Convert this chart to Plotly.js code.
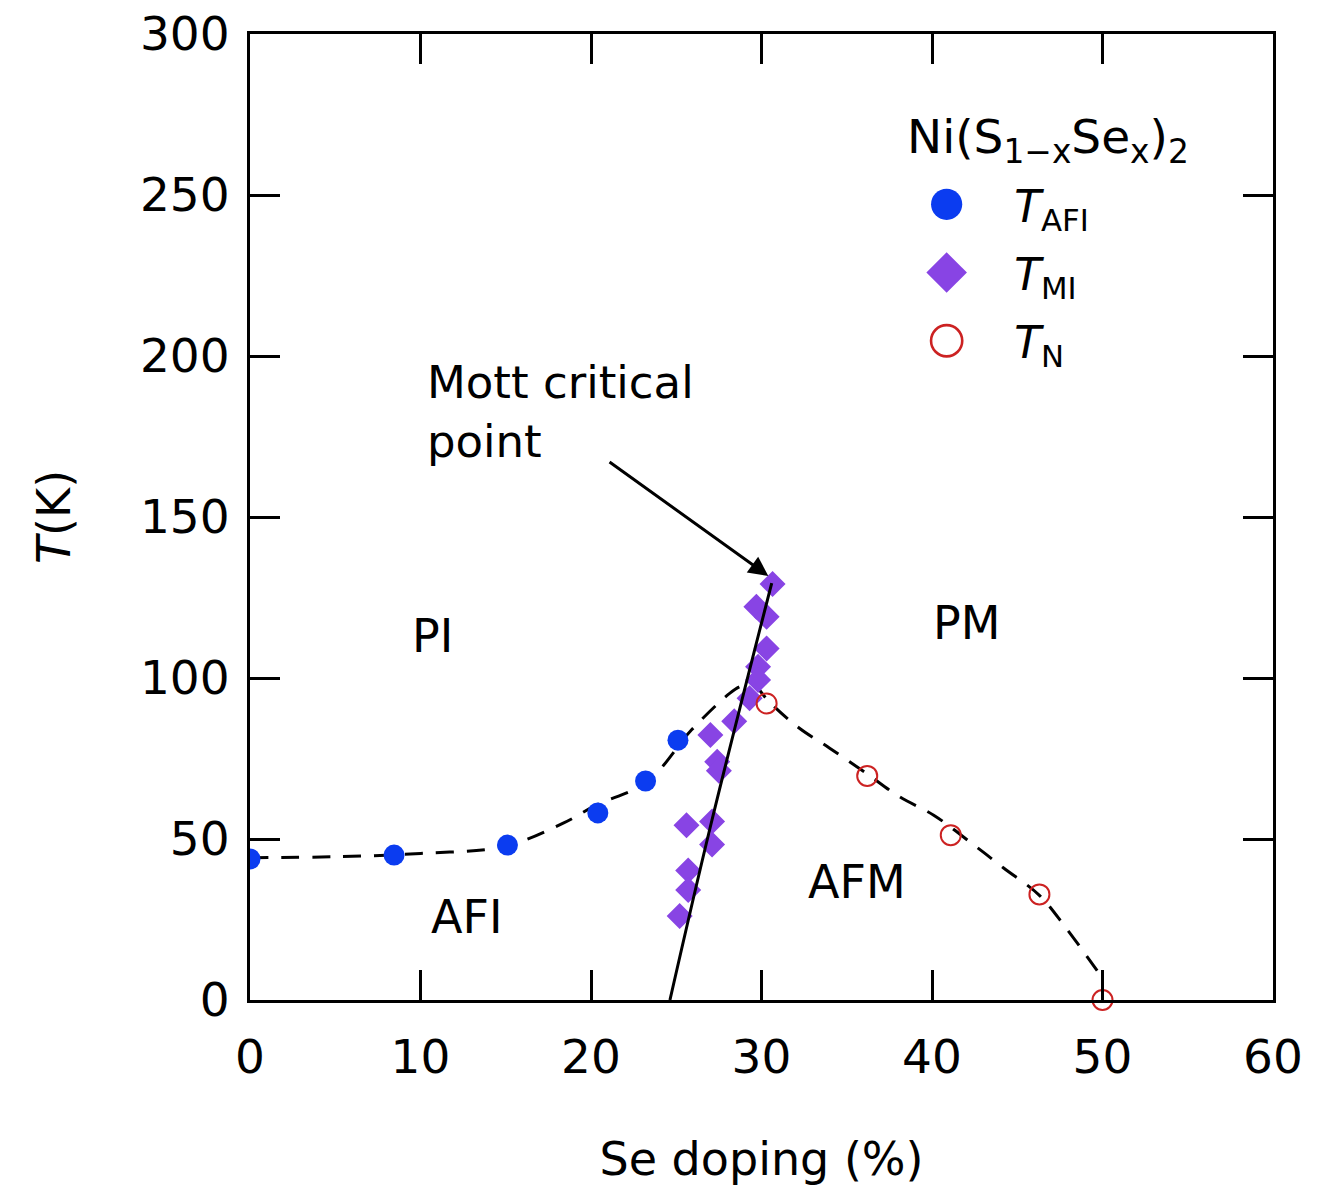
<!DOCTYPE html>
<html>
<head>
<meta charset="utf-8">
<script src="https://cdn.plot.ly/plotly-3.0.1.min.js"></script>
<style>html,body{margin:0;padding:0;background:#fff}</style>
</head>
<body>
<div id="chart" style="width:1328px;height:1188px"></div>
<script>
// T_AFI (blue filled circles)
const afiX = [0, 8.45, 15.1, 20.4, 23.2, 25.1];
const afiY = [43.8, 45.0, 48.1, 58.1, 68.0, 80.7];
// T_MI (purple diamonds)
const miX = [30.65, 29.7, 30.3, 30.3, 29.8, 29.8, 29.3, 28.4, 27.0, 27.4, 27.5, 25.6, 27.1, 27.1, 25.7, 25.7, 25.2];
const miY = [129.2, 122.1, 119.0, 109.2, 103.5, 99.4, 93.7, 86.6, 82.3, 74.0, 71.2, 54.3, 55.4, 48.3, 40.2, 34.2, 26.1];
// T_N (red open circles)
const nX = [30.3, 36.2, 41.1, 46.3, 50.0];
const nY = [92.1, 69.6, 51.2, 32.8, 0];
// guide lines
const afiLineX = [0, 5, 10, 15, 18.4, 20.3, 23.3, 25.9, 28.15, 28.8, 29.6];
const afiLineY = [44.2, 44.5, 45.5, 47.8, 55, 60.5, 67.8, 83.9, 95.3, 97.5, 98.5];
const nLineX = [29.6, 30.3, 32.1, 34.0, 36.2, 38.1, 40.1, 42.2, 44.2, 46.3, 47.8, 49.7];
const nLineY = [98.5, 93.5, 84.9, 78.2, 70.2, 63.1, 57.4, 49.2, 41.0, 32.5, 22.8, 9.0];
const miLineX = [24.63, 27.0, 30.6];
const miLineY = [0, 53.8, 129.5];

const font = "DejaVu Sans, Liberation Sans, sans-serif";

const traces = [
  {x: afiLineX, y: afiLineY, mode: 'lines', line: {color: '#000', width: 3, dash: '18px,13px', shape: 'spline'}, showlegend: false, hoverinfo: 'skip'},
  {x: nLineX, y: nLineY, mode: 'lines', line: {color: '#000', width: 3, dash: '18px,13px', shape: 'spline'}, showlegend: false, hoverinfo: 'skip'},
  {x: afiX, y: afiY, mode: 'markers', name: '<i>T</i><sub>AFI</sub>', legendgroup: 'a',
   marker: {symbol: 'circle', size: 21, color: '#0b3cf0'}},
  {x: miX, y: miY, mode: 'markers', name: '<i>T</i><sub>MI</sub>', legendgroup: 'b',
   marker: {symbol: 'diamond', size: 20, color: '#8844e4'}},
  {x: nX, y: nY, mode: 'markers', name: '<i>T</i><sub>N</sub>', cliponaxis: false, legendgroup: 'c',
   marker: {symbol: 'circle-open', size: 20, color: '#cc2222', line: {width: 2, color: '#cc2222'}}},
  {x: miLineX, y: miLineY, mode: 'lines', line: {color: '#000', width: 3, shape: 'spline'}, showlegend: false, hoverinfo: 'skip'}
];

const axisCommon = {
  showgrid: false, zeroline: false, showline: true, linecolor: '#000', linewidth: 3,
  mirror: 'allticks', ticks: 'inside', ticklen: 30, tickwidth: 3, tickcolor: '#000',
  tickfont: {family: font, size: 47, color: '#000'}
};

const layout = {
  width: 1328, height: 1188,
  margin: {l: 250, r: 55, t: 34, b: 188},
  paper_bgcolor: '#fff', plot_bgcolor: '#fff',
  font: {family: font, color: '#000'},
  xaxis: Object.assign({}, axisCommon, {
    range: [0, 60], dtick: 10, tick0: 0, ticklabelstandoff: 14,
    title: {text: 'Se doping (%)', font: {family: font, size: 46, color: '#000'}, standoff: 60}
  }),
  yaxis: Object.assign({}, axisCommon, {
    range: [0, 300], dtick: 50, tick0: 0, ticklabelstandoff: 8,
    title: {text: '<i>T</i>(K)', font: {family: font, size: 46, color: '#000'}, standoff: 55}
  }),
  showlegend: true,
  legend: {
    x: 0.615, y: 0.86, xanchor: 'left', yanchor: 'top',
    bgcolor: 'rgba(0,0,0,0)', borderwidth: 0,
    font: {family: font, size: 44, color: '#000'},
    itemsizing: 'constant', tracegroupgap: 8, itemwidth: 125
  },
  annotations: [
    {x: 0.64, y: 0.89, xref: 'paper', yref: 'paper', xanchor: 'left', yanchor: 'middle', showarrow: false,
     text: 'Ni(S<sub>1−x</sub>Se<sub>x</sub>)<sub>2</sub>', font: {family: font, size: 47, color: '#000'}},
    {x: 30.4, y: 131.7, ax: 21.0, ay: 167.4, axref: 'x', ayref: 'y', xref: 'x', yref: 'y',
     showarrow: true, arrowhead: 2, arrowsize: 1.3, arrowwidth: 3, arrowcolor: '#000', text: ''},
    {x: 10.26, y: 182.6, xref: 'x', yref: 'y', xanchor: 'left', yanchor: 'middle', align: 'left',
     showarrow: false, text: 'Mott critical<br>point', font: {family: font, size: 45, color: '#000'}},
    {x: 10.7, y: 113, xref: 'x', yref: 'y', showarrow: false, text: 'PI', font: {family: font, size: 46, color: '#000'}},
    {x: 12.7, y: 25.8, xref: 'x', yref: 'y', showarrow: false, text: 'AFI', font: {family: font, size: 46, color: '#000'}},
    {x: 35.6, y: 36.6, xref: 'x', yref: 'y', showarrow: false, text: 'AFM', font: {family: font, size: 46, color: '#000'}},
    {x: 42.0, y: 117, xref: 'x', yref: 'y', showarrow: false, text: 'PM', font: {family: font, size: 46, color: '#000'}}
  ]
};

Plotly.newPlot('chart', traces, layout, {displayModeBar: false, staticPlot: true}).then(function (gd) {
  // enlarge legend symbols to match the reference
  gd.querySelectorAll('.legend .legendpoints path.scatterpts').forEach(function (p) {
    const t = p.getAttribute('transform') || '';
    p.setAttribute('transform', t + ' scale(2.6)');
    if (p.style.stroke && p.style.fill === 'none') p.style.strokeWidth = '1px';
  });
});
</script>
</body>
</html>
